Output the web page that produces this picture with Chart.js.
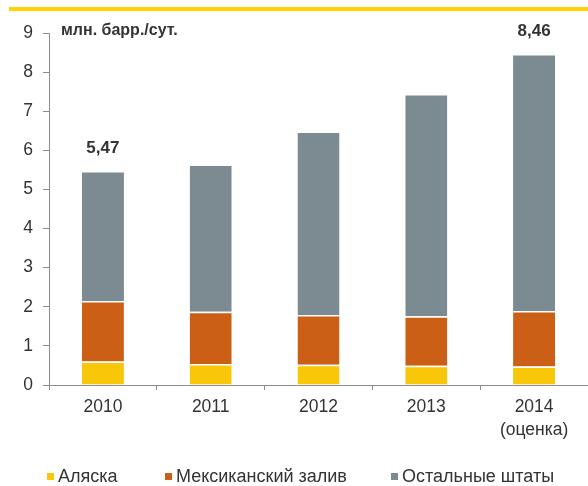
<!DOCTYPE html>
<html>
<head>
<meta charset="utf-8">
<script src="https://cdn.jsdelivr.net/npm/chart.js@4.4.1/dist/chart.umd.min.js"></script>
<style>
  html, body { margin: 0; padding: 0; background: #fff; }
  #wrap { position: relative; width: 588px; height: 486px; overflow: hidden; font-family: "Liberation Sans", Arial, sans-serif; }
  #topline { position: absolute; left: 9px; top: 7px; width: 579px; height: 4px; background: #FFD200; }
  #unit { position: absolute; left: 61px; top: 21px; font-size: 16px; font-weight: bold; color: #333; }
  #legend { position: absolute; top: 466px; left: 0; width: 588px; height: 22px; }
  .li { position: absolute; top: 0; font-size: 18px; color: #333; white-space: nowrap; line-height: 20px; }
  .li span.box { display: inline-block; width: 7px; height: 7px; margin-right: 4px; vertical-align: 2px; }
  canvas { position: absolute; left: 0; top: 0; }
</style>
</head>
<body>
<div id="wrap">
  <canvas id="c" width="588" height="486"></canvas>
  <div id="topline"></div>
  <div id="unit">млн. барр./сут.</div>
  <div id="legend"></div>
</div>
<script>
// ---- data ----
const categories = ["2010", "2011", "2012", "2013", ["2014", "(оценка)"]];
const seriesNames = ["Аляска", "Мексиканский залив", "Остальные штаты"];
const alaska = [0.60, 0.54, 0.52, 0.49, 0.47];
const gulf = [1.55, 1.33, 1.27, 1.27, 1.42];
const others = [3.32, 3.77, 4.69, 5.68, 6.57];
const totalLabels = ["5,47", null, null, null, "8,46"];
const yTicks = [0, 1, 2, 3, 4, 5, 6, 7, 8, 9];
const colors = ["#F8C70A", "#CC5F16", "#7C8A92"];

const FONT = "'Liberation Sans', Arial, sans-serif";
const TEXT = "#333333";
const AXIS = "#8c8c8c";

const totalsPlugin = {
  id: "totals",
  afterDatasetsDraw(chart) {
    const ctx = chart.ctx;
    const xs = chart.scales.x, ys = chart.scales.y;
    ctx.save();
    ctx.font = "bold 17px " + FONT;
    ctx.fillStyle = TEXT;
    ctx.textAlign = "center";
    ctx.textBaseline = "middle";
    totalLabels.forEach((lab, i) => {
      if (!lab) return;
      const tot = alaska[i] + gulf[i] + others[i];
      ctx.fillText(lab, xs.getPixelForValue(i), ys.getPixelForValue(tot) - 23);
    });
    ctx.restore();
  }
};

const ds = [alaska, gulf, others].map((d, k) => ({
  label: seriesNames[k],
  data: d,
  backgroundColor: colors[k],
  borderColor: "#ffffff",
  borderWidth: { top: 1.5, bottom: 0, left: 0, right: 0 },
  borderSkipped: false,
  categoryPercentage: 1.0,
  barPercentage: 0.39
}));

new Chart(document.getElementById("c"), {
  type: "bar",
  data: { labels: categories, datasets: ds },
  plugins: [totalsPlugin],
  options: {
    responsive: false,
    animation: false,
    layout: { padding: { top: 33, right: 0, bottom: 0, left: 0 } },
    plugins: { legend: { display: false }, tooltip: { enabled: false } },
    scales: {
      x: {
        stacked: true,
        offset: true,
        grid: { display: true, offset: true, drawOnChartArea: false, drawTicks: true, tickLength: 5, color: AXIS, lineWidth: 1 },
        border: { display: true, color: AXIS, width: 1 },
        ticks: { color: TEXT, font: { family: FONT, size: 17.5, lineHeight: 1.32 }, padding: 6, maxRotation: 0, autoSkip: false },
        afterFit(s) { s.height = 486 - 385; }
      },
      y: {
        stacked: true,
        min: 0, max: 9,
        afterBuildTicks(s) { s.ticks = yTicks.map(v => ({ value: v })); },
        grid: { display: true, drawOnChartArea: false, drawTicks: true, tickLength: 6, color: AXIS, lineWidth: 1 },
        border: { display: true, color: AXIS, width: 1 },
        ticks: { color: TEXT, font: { family: FONT, size: 17.5 }, padding: 10 },
        afterFit(s) { s.width = 49; }
      }
    }
  }
});

// legend (HTML, from series names/colours)
const legendPos = [47, 165, 391];
const lg = document.getElementById("legend");
seriesNames.forEach((n, k) => {
  const d = document.createElement("div");
  d.className = "li";
  d.style.left = legendPos[k] + "px";
  const b = document.createElement("span");
  b.className = "box";
  b.style.background = colors[k];
  d.appendChild(b);
  d.appendChild(document.createTextNode(n));
  lg.appendChild(d);
});
</script>
</body>
</html>
